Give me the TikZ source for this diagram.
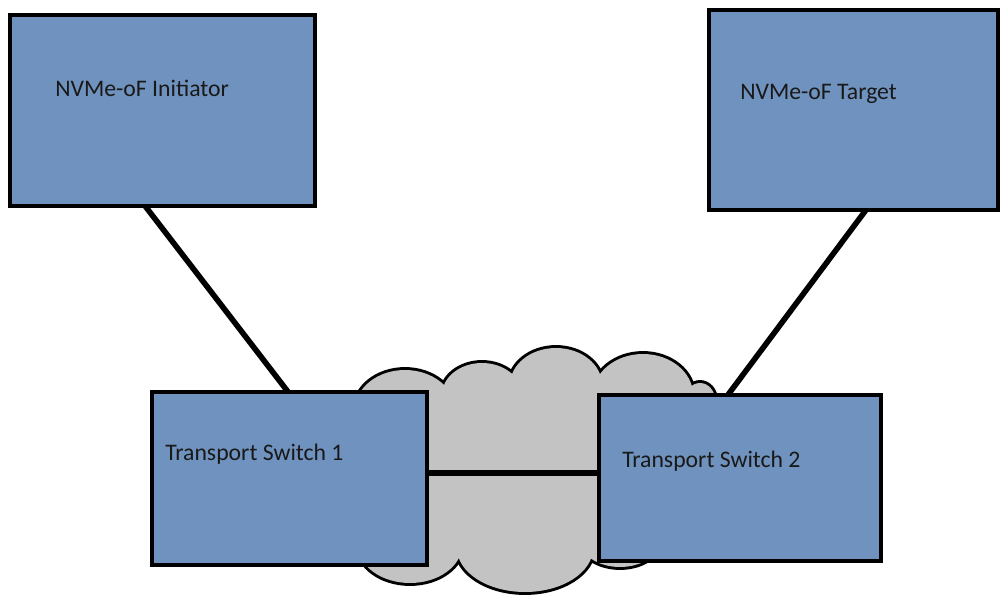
\documentclass[tikz,border=0pt]{standalone}
\usepackage{fontspec}
\setmainfont{Carlito}
\usetikzlibrary{calc}
\definecolor{boxblue}{RGB}{112,146,190}
\definecolor{cloudgray}{RGB}{195,195,195}
\tikzset{
  box/.style={draw=black, line width=3pt, fill=boxblue, rectangle, inner sep=0pt, outer sep=0pt},
  lbl/.style={anchor=base west, inner sep=0pt, font=\fontsize{17.8}{20}\selectfont, text=black!90},
  link/.style={draw=black, line width=4.2pt},
}
\begin{document}
\begin{tikzpicture}[x=0.75pt, y=-0.75pt]
\useasboundingbox (0,0) rectangle (1000,595);
% cloud: outline then fill (union)
\def\cloudshapes{
  (405,410) ellipse [x radius=50, y radius=40]
  (482,395) ellipse [x radius=40, y radius=32]
  (556,385) ellipse [x radius=46, y radius=37]
  (643,395) ellipse [x radius=50, y radius=41]
  (700,400) ellipse [x radius=15, y radius=17]
  (410,545) ellipse [x radius=52, y radius=38]
  (525,548) ellipse [x radius=68, y radius=44]
  (620,540) ellipse [x radius=40, y radius=27]
  (540,470) ellipse [x radius=150, y radius=80]
}
\draw[line width=4.4pt, black] \cloudshapes;
\fill[cloudgray] \cloudshapes;
% boxes
\node[box, minimum width=228.75pt, minimum height=143.25pt] (init) at (162.5,110.5) {};
\node[box, minimum width=216.75pt, minimum height=150pt] (targ) at (853.5,110) {};
\node[box, minimum width=206.25pt, minimum height=129.75pt] (ts1) at (289.5,478.5) {};
\node[box, minimum width=211.5pt, minimum height=124.5pt] (ts2) at (740,478) {};
% link between switches
\draw[link] ($(ts1.east)+(0,-5.5)$) -- ($(ts2.west)+(0,-5)$);
% labels
\node[lbl] (tinit) at (55,97) {NVMe-oF Initiator};
\node[lbl] (ttarg) at (740,100) {NVMe-oF Target};
\node[lbl] (tts1) at (165,460) {Transport Switch 1};
\node[lbl] (tts2) at (622,467) {Transport Switch 2};
% connectors
\draw[link] ($(init.south west)!0.443!(init.south east)$) -- ($(ts1.north west)!0.495!(ts1.north east)$);
\draw[link] ($(targ.south west)!0.543!(targ.south east)$) -- ($(ts2.north west)!0.457!(ts2.north east)$);
\end{tikzpicture}
\end{document}
